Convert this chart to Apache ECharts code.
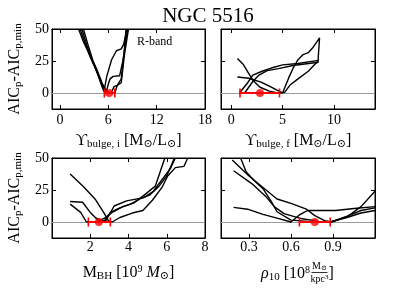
<!DOCTYPE html>
<html><head><meta charset="utf-8">
<script src="https://cdn.jsdelivr.net/npm/echarts@6/dist/echarts.min.js"></script>
<style>html,body{margin:0;padding:0;background:#fff}#c{width:416px;height:297px}</style>
</head><body><div id="c"></div>
<script>
// ---------- data ----------
const titleText = 'NGC 5516';
// Panel 1: Upsilon bulge,i
const p1Ticks = [0, 6, 12, 18];
const p1Range = [-1, 18];
const p1C1 = [[2.3,50],[2.9,40],[3.5,32],[4.0,25],[4.6,16],[5.1,7],[5.45,1],[5.6,0],[5.8,13],[6.4,26],[7.0,33],[7.6,34.5],[7.9,38],[8.3,50]];
const p1C2 = [[2.5,50],[3.1,39],[3.7,29],[4.2,22],[4.8,13],[5.3,4],[5.7,0],[6.0,7],[6.2,11],[6.6,13],[7.4,13.5],[7.8,25],[8.4,50]];
const p1C3 = [[2.7,50],[3.3,38],[3.9,27],[4.4,20],[4.9,12],[5.5,3],[5.9,0],[6.4,0.5],[6.7,5],[7.1,6],[7.6,8],[8.0,30],[8.5,50]];
const p1C4 = [[2.9,50],[3.5,37],[4.1,25],[4.6,18],[5.2,8],[5.7,2],[6.2,0],[6.8,0],[7.1,6],[7.6,11],[8.0,35],[8.2,50]];
const p1Best = [6.1, 5.5, 6.8]; // best, low, high
// Panel 2: Upsilon bulge,f
const p2Ticks = [0, 5, 10];
const p2Range = [-1, 14];
const p2C1 = [[0.6,27],[1.2,22],[1.65,16],[2.1,10],[2.8,4.5],[3.7,1.5],[4.5,0],[5.2,0.5],[5.7,6],[6.5,11],[7.5,17],[8.1,22],[8.5,25]];
const p2C2 = [[0.6,12.5],[1.7,11.5],[2.9,8.5],[3.9,4.5],[4.5,2],[5.0,0],[5.6,12],[6.0,19],[6.5,26],[7.0,30],[7.5,31.5],[8.0,36],[8.6,43],[8.45,25]];
const p2C3 = [[0.8,0],[1.6,8],[2.1,14],[3.0,17],[3.9,19.5],[5.0,22],[6.5,23],[8.5,25.5]];
const p2C4 = [[1.3,0],[2.1,9],[2.7,14],[3.5,17.5],[4.6,19],[6.0,21.5],[8.5,24]];
const p2Best = [2.8, 0.85, 4.7];
// Panel 3: M_BH
const p3Ticks = [2, 4, 6, 8];
const p3Range = [0, 8];
const p3C1 = [[0.95,37.5],[1.65,27.5],[2.25,18],[2.7,7.5],[2.95,1],[3.15,0],[3.55,3.5],[4.2,7],[4.75,9],[5.25,17],[5.75,27],[6.05,36],[6.45,42.5],[6.9,43.5],[7.1,50]];
const p3C2 = [[0.95,16],[1.6,15.4],[2.0,7.5],[2.45,0.8],[2.75,3],[3.2,8],[3.7,12],[4.3,15],[4.9,22],[5.4,28],[5.9,50]];
const p3C3 = [[0.95,14],[1.5,7.5],[1.8,0],[2.7,0],[3.05,7.5],[3.55,11],[4.1,14],[4.6,18],[5.1,21],[5.6,28],[6.0,36],[6.4,50]];
const p3C4 = [[2.3,3],[2.8,0.5],[3.25,12.5],[3.9,16.5],[4.8,19],[5.3,24],[5.8,34],[6.2,42],[6.45,50]];
const p3Best = [2.45, 1.9, 3.05];
// Panel 4: rho10
const p4Ticks = [0.3, 0.6, 0.9];
const p4Range = [0.1, 1.2];
const p4C1 = [[0.24,50],[0.28,39],[0.34,32],[0.40,26],[0.46,16],[0.50,8],[0.60,1.5],[0.72,0.5],[0.88,0],[1.0,4],[1.1,12],[1.2,24]];
const p4C2 = [[0.18,48.5],[0.30,36],[0.40,27],[0.50,18],[0.60,14.5],[0.71,10],[0.77,5],[0.84,1],[0.89,0],[1.0,4.5],[1.1,9],[1.2,11]];
const p4C3 = [[0.19,40],[0.32,30],[0.42,20],[0.48,12],[0.55,6.5],[0.68,2.5],[0.80,0.5],[0.88,0],[1.0,3.5],[1.1,7],[1.2,9]];
const p4C4 = [[0.19,11.4],[0.29,10],[0.40,6],[0.50,3],[0.60,0],[0.66,5.5],[0.72,9],[0.92,9],[1.05,10.5],[1.2,12]];
const p4Best = [0.77, 0.66, 0.88];
const yTicks = [0, 25, 50];
const yRange = [-12.5, 50];

// ---------- chart ----------
const FONT = '"Liberation Serif","DejaVu Serif",serif';
const sub = {fontSize: 11, fontFamily: FONT, color: '#000', padding: [7,0,0,0]};
const sup = {fontSize: 10, fontFamily: FONT, color: '#000', padding: [0,0,7,0]};
const ital = {fontSize: 16, fontFamily: FONT, color: '#000', fontStyle: 'italic'};

const panels = [
  {curves:[p1C1,p1C2,p1C3,p1C4], best:p1Best, range:p1Range, ticks:p1Ticks, yLabels:true,
   grid:{left:52, top:29, width:153, height:80},
   name:'ϒ{s|bulge, i} [M{s|⊙}/L{s|⊙}]', nameGap:23, labelMargin:4},
  {curves:[p2C1,p2C2,p2C3,p2C4], best:p2Best, range:p2Range, ticks:p2Ticks, yLabels:false,
   grid:{left:221, top:29, width:154, height:80},
   name:'ϒ{s|bulge, f} [M{s|⊙}/L{s|⊙}]', nameGap:23, labelMargin:4},
  {curves:[p3C1,p3C2,p3C3,p3C4], best:p3Best, range:p3Range, ticks:p3Ticks, yLabels:true,
   grid:{left:52, top:158, width:153, height:80},
   name:'M{s|BH} [10{p|9} {i|M}{s|⊙}]', nameGap:26, labelMargin:2},
  {curves:[p4C1,p4C2,p4C3,p4C4], best:p4Best, range:p4Range, ticks:p4Ticks, yLabels:false,
   grid:{left:221, top:158, width:154, height:80},
   name:'', nameGap:26, labelMargin:2}
];

const grid = [], xAxis = [], yAxis = [], series = [];
const axisLineStyle = {color:'#000', width:1};
panels.forEach((p, i) => {
  grid.push(Object.assign({show:true, borderColor:'#000', borderWidth:1, backgroundColor:'transparent'}, p.grid));
  const baseX = {type:'value', gridIndex:i, min:p.range[0], max:p.range[1],
    splitLine:{show:false}, axisLine:{show:true, onZero:false, lineStyle:axisLineStyle},
    axisTick:{show:true, inside:true, length:4, lineStyle:axisLineStyle, customValues:p.ticks}};
  xAxis.push(Object.assign({}, baseX, {position:'bottom',
    axisLabel:{show:true, customValues:p.ticks, color:'#000', fontFamily:FONT, fontSize:14, margin:p.labelMargin, showMinLabel:true, showMaxLabel:true},
    name:p.name, nameLocation:'middle', nameGap:p.nameGap,
    nameTextStyle:{color:'#000', fontFamily:FONT, fontSize:16, rich:{s:sub, p:sup, i:ital}}}));
  xAxis.push(Object.assign({}, baseX, {position:'top', axisLabel:{show:false}}));
  const baseY = {type:'value', gridIndex:i, min:yRange[0], max:yRange[1],
    splitLine:{show:false}, axisLine:{show:true, onZero:false, lineStyle:axisLineStyle},
    axisTick:{show:true, inside:true, length:4, lineStyle:axisLineStyle, customValues:yTicks}};
  yAxis.push(Object.assign({}, baseY, {position:'left',
    axisLabel:{show:p.yLabels, customValues:yTicks, color:'#000', fontFamily:FONT, fontSize:14, margin:3},
    name:p.yLabels ? 'AIC{s|p}-AIC{s|p,min}' : '', nameLocation:'middle', nameRotate:90, nameGap:28,
    nameTextStyle:{color:'#000', fontFamily:FONT, fontSize:16, rich:{s:sub}}}));
  yAxis.push(Object.assign({}, baseY, {position:'right', axisLabel:{show:false}}));

  p.curves.forEach((c, k) => {
    const s = {type:'line', xAxisIndex:2*i, yAxisIndex:2*i, data:c, showSymbol:false, symbol:'none',
      lineStyle:{color:'#000', width:1.4}, z:3, silent:true, animation:false};
    if (k === 0) {
      s.markLine = {silent:true, symbol:'none', label:{show:false}, animation:false,
        lineStyle:{color:'#9a9a9a', width:1, type:'solid'}, data:[{yAxis:0}], z:1};
    }
    series.push(s);
  });
  series.push({type:'line', xAxisIndex:2*i, yAxisIndex:2*i, data:[[p.best[1],0],[p.best[2],0]],
    symbol:'rect', symbolSize:[1.6,9], showSymbol:true, itemStyle:{color:'#ff0000'},
    lineStyle:{color:'#ff0000', width:2}, z:5, animation:false, silent:true});
  series.push({type:'scatter', xAxisIndex:2*i, yAxisIndex:2*i, data:[[p.best[0],0]],
    symbol:'circle', symbolSize:8, itemStyle:{color:'#ff0000'}, z:6, animation:false, silent:true});
});

const chart = echarts.init(document.getElementById('c'), null, {renderer:'canvas'});
chart.setOption({
  backgroundColor:'#fff',
  animation:false,
  title:{text:titleText, left:'center', top:1, textStyle:{fontFamily:FONT, fontSize:21, fontWeight:'normal', color:'#000'}},
  grid, xAxis, yAxis, series,
  graphic:[
    {type:'text', left:137, top:36, style:{text:'R-band', fontFamily:FONT, fontSize:12, fill:'#000'}},
    {type:'text', x:310, y:274, style:{text:'{i|ρ}{s|10} [10{p|8}', align:'right', verticalAlign:'middle',
      fontFamily:FONT, fontSize:16, fill:'#000', rich:{i:ital, s:sub, p:sup}}},
    {type:'text', x:319.5, y:266.5, style:{text:'M{s|⊙}', align:'center', verticalAlign:'middle', fontFamily:FONT, fontSize:10, fill:'#000',
      rich:{s:{fontSize:7, fontFamily:FONT, padding:[4,0,0,0]}}}},
    {type:'line', shape:{x1:311.5, y1:272.5, x2:327.5, y2:272.5}, style:{stroke:'#000', lineWidth:0.8}},
    {type:'text', x:319.5, y:279, style:{text:'kpc{p|3}', align:'center', verticalAlign:'middle', fontFamily:FONT, fontSize:10, fill:'#000',
      rich:{p:{fontSize:7, fontFamily:FONT, padding:[0,0,4,0]}}}},
    {type:'text', x:328.5, y:274, style:{text:']', align:'left', verticalAlign:'middle', fontFamily:FONT, fontSize:16, fill:'#000'}}
  ]
});
</script></body></html>
